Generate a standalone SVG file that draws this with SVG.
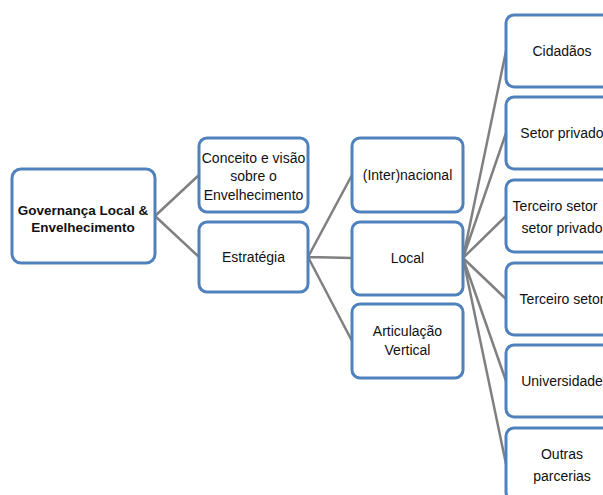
<svg xmlns="http://www.w3.org/2000/svg" width="603" height="495" viewBox="0 0 603 495">
<style>
.box{fill:#fff;stroke:#4f81bd;stroke-width:3}
.t{font-family:"Liberation Sans",Arial,sans-serif;font-size:14px;fill:#111;text-anchor:middle}
.b{font-weight:bold;font-size:13.5px}
.c{stroke:#808080;stroke-width:2.5;fill:none}
</style>
<rect width="603" height="495" fill="#fff"/>
<g id="connectors">
<path class="c" d="M155 216L199 175M155 216L199 257"/>
<path class="c" d="M308 257L352 175M308 257L352 258M308 257L352 341"/>
<path class="c" d="M463 258L506 51M463 258L506 133M463 258L506 216M463 258L506 299M463 258L506 381M463 258L506 464"/>
</g>
<g id="root"><rect class="box" x="12" y="169" width="143" height="94" rx="9"/>
<text class="t b" x="83" y="215">Governança Local &amp;</text><text class="t b" x="83" y="232">Envelhecimento</text></g>
<g id="conceito"><rect class="box" x="199" y="138" width="109" height="74" rx="8"/>
<text class="t" x="253.5" y="163">Conceito e visão</text><text class="t" x="253.5" y="181">sobre o</text><text class="t" x="253.5" y="200">Envelhecimento</text></g>
<g id="estrategia"><rect class="box" x="199" y="222" width="109" height="70" rx="8"/>
<text class="t" x="253.5" y="262">Estratégia</text></g>
<g id="internacional"><rect class="box" x="352" y="138" width="111" height="74" rx="8"/>
<text class="t" x="407.5" y="180">(Inter)nacional</text></g>
<g id="local"><rect class="box" x="352" y="222" width="111" height="73" rx="8"/>
<text class="t" x="407.5" y="263">Local</text></g>
<g id="articulacao"><rect class="box" x="352" y="304" width="111" height="74" rx="8"/>
<text class="t" x="407.5" y="336">Articulação</text><text class="t" x="407.5" y="355">Vertical</text></g>
<g id="cidadaos"><rect class="box" x="506" y="15" width="112" height="72" rx="8"/>
<text class="t" x="562" y="56">Cidadãos</text></g>
<g id="setorprivado"><rect class="box" x="506" y="97" width="112" height="72" rx="8"/>
<text class="t" x="562" y="138">Setor privado</text></g>
<g id="terceiroprivado"><rect class="box" x="506" y="180" width="112" height="72" rx="8"/>
<text class="t" x="555" y="211">Terceiro setor</text><text class="t" x="562" y="233">setor privado</text></g>
<g id="terceiro"><rect class="box" x="506" y="263" width="112" height="72" rx="8"/>
<text class="t" x="562" y="304">Terceiro setor</text></g>
<g id="universidade"><rect class="box" x="506" y="345" width="112" height="72" rx="8"/>
<text class="t" x="562" y="386">Universidade</text></g>
<g id="outras"><rect class="box" x="506" y="428" width="112" height="72" rx="8"/>
<text class="t" x="562" y="459">Outras</text><text class="t" x="562" y="481">parcerias</text></g>
</svg>
